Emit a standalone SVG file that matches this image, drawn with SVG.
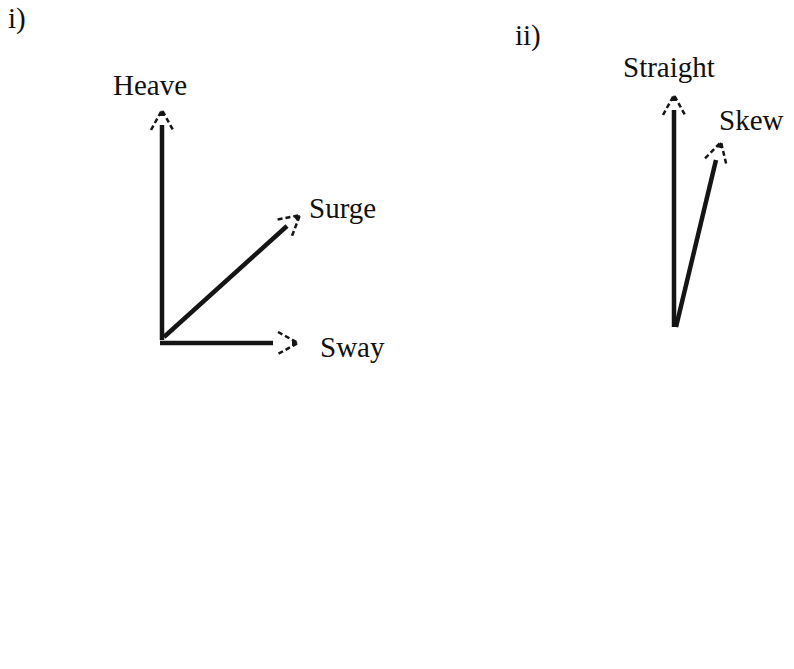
<svg xmlns="http://www.w3.org/2000/svg" width="794" height="669" viewBox="0 0 794 669">
<defs>
<style>
.lbl{font-family:"Liberation Serif","Times New Roman",serif;font-size:29px;fill:#111}
.shaft{stroke:#151515;stroke-width:4.5;stroke-linecap:butt;fill:none}
.head{stroke:#151515;stroke-width:2.5;stroke-dasharray:5 3;fill:none;stroke-linejoin:miter}
</style>
<marker id="open" viewBox="-24 -14 28 28" markerWidth="28" markerHeight="28" refX="0" refY="0" orient="auto" markerUnits="userSpaceOnUse">
<path d="M-20,-11 L0,0 L-20,11" stroke="#151515" stroke-width="2.5" stroke-dasharray="5 3" fill="none"/>
<path d="M0,0 L-6,-3 L-6,3 Z" fill="#151515"/>
</marker>
</defs>
<rect width="794" height="669" fill="#fff"/>
<text class="lbl" x="8" y="28">i)</text>
<text class="lbl" x="515" y="45">ii)</text>
<g id="connectors">
<line class="shaft" x1="162" y1="340" x2="162" y2="125"/>
<line x1="162" y1="125" x2="162" y2="110" stroke="none" marker-end="url(#open)"/>
<line class="shaft" x1="160" y1="343" x2="273" y2="343"/>
<line x1="273" y1="343" x2="298" y2="343" stroke="none" marker-end="url(#open)"/>
<line class="shaft" x1="164" y1="337" x2="287" y2="226"/>
<line x1="287" y1="226" x2="300" y2="215" stroke="none" marker-end="url(#open)"/>
<line class="shaft" x1="674" y1="327" x2="674" y2="110"/>
<line x1="674" y1="110" x2="674" y2="95" stroke="none" marker-end="url(#open)"/>
<line class="shaft" x1="676" y1="327" x2="716" y2="160"/>
<line x1="716" y1="160" x2="721" y2="142" stroke="none" marker-end="url(#open)"/>
</g>
<g id="heave"><text class="lbl" x="113" y="95">Heave</text></g>
<g id="surge"><text class="lbl" x="309" y="218">Surge</text></g>
<g id="sway"><text class="lbl" x="320" y="357">Sway</text></g>
<g id="straight"><text class="lbl" x="623" y="77">Straight</text></g>
<g id="skew"><text class="lbl" x="719" y="130">Skew</text></g>
</svg>
